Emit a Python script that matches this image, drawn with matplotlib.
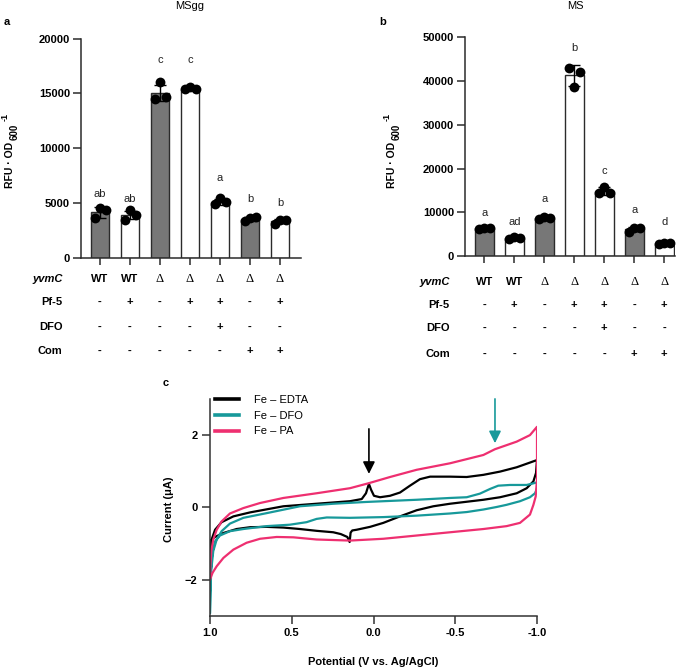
import numpy as np
import matplotlib.pyplot as plt

plt.rcParams['font.family'] = 'Liberation Sans'

# ---- panel a (MSgg) ----
means_a = [4150, 3900, 15050, 15450, 5080, 3560, 3330]
sd_a = [500, 350, 750, 80, 300, 200, 180]
pts_a = [[3600, 4550, 4350], [3470, 4380, 3925], [14490, 16010, 14640],
         [15450, 15550, 15450], [4900, 5450, 5100], [3350, 3650, 3700],
         [3100, 3450, 3400]]
letters_a = ['ab', 'ab', 'c', 'c', 'a', 'b', 'b']
letters_a_y = [5820, 5360, 18050, 18050, 7280, 5360, 5000]

# ---- panel b (MS) ----
means_b = [6300, 4100, 8630, 41290, 14850, 6130, 2900]
sd_b = [200, 200, 250, 2400, 870, 470, 180]
pts_b = [[6100, 6500, 6300], [3900, 4300, 4100], [8400, 8900, 8600],
         [42950, 38740, 42170], [14300, 15850, 14400], [5600, 6300, 6500],
         [2700, 3050, 2950]]
letters_b = ['a', 'ad', 'a', 'b', 'c', 'a', 'd']
letters_b_y = [9830, 7770, 13030, 47480, 19500, 10520, 7770]

filled = [True, False, True, False, False, True, False]
row_names = ['yvmC', 'Pf-5', 'DFO', 'Com']
yvmc = ['WT', 'WT', 'Δ', 'Δ', 'Δ', 'Δ', 'Δ']
pf5 = ['-', '+', '-', '+', '+', '-', '+']
dfo = ['-', '-', '-', '-', '+', '-', '-']
com = ['-', '-', '-', '-', '-', '+', '+']

# ---- panel c (cyclic voltammetry) ----
edta_E = [1.000, 0.990, 0.969, 0.929, 0.857, 0.755, 0.551, 0.348, 0.144, 0.072,
          0.046, 0.028, 0.015, -0.003, -0.040, -0.101, -0.162, -0.223, -0.284,
          -0.346, -0.468, -0.570, -0.672, -0.774, -0.876, -0.957, -1.000,
          -0.994, -0.978, -0.937, -0.876, -0.774, -0.672, -0.468, -0.366,
          -0.264, -0.162, -0.060, 0.021, 0.103, 0.130, 0.140, 0.146, 0.160,
          0.200, 0.246, 0.348, 0.450, 0.551, 0.653, 0.755, 0.837, 0.918,
          0.969, 1.000]
edta_I = [-1.26, -0.89, -0.62, -0.41, -0.25, -0.14, 0.03, 0.10, 0.17, 0.23,
          0.39, 0.65, 0.49, 0.32, 0.28, 0.32, 0.41, 0.60, 0.78,
          0.85, 0.85, 0.84, 0.90, 0.99, 1.11, 1.24, 1.31,
          0.95, 0.72, 0.53, 0.39, 0.28, 0.21, 0.10, 0.03,
          -0.08, -0.25, -0.43, -0.54, -0.62, -0.64, -0.70, -0.96, -0.82,
          -0.74, -0.69, -0.65, -0.60, -0.56, -0.54, -0.55, -0.60, -0.71,
          -0.82, -0.94]

dfo_E = [1.000, 0.998, 0.992, 0.980, 0.959, 0.929, 0.878, 0.796, 0.653, 0.450,
         0.246, 0.042, -0.264, -0.468, -0.570, -0.651, -0.713, -0.763, -0.835,
         -0.937, -1.000, -1.000, -0.988, -0.957, -0.896, -0.814, -0.753,
         -0.672, -0.570, -0.468, -0.264, -0.060, 0.144, 0.286, 0.348, 0.409,
         0.511, 0.653, 0.796, 0.878, 0.939, 0.969, 0.986, 0.996, 1.000]
dfo_I = [-2.91, -2.36, -1.72, -1.21, -0.89, -0.66, -0.45, -0.29, -0.16, 0.03,
         0.10, 0.15, 0.21, 0.26, 0.28, 0.38, 0.51, 0.60, 0.62,
         0.62, 0.69, 0.53, 0.39, 0.28, 0.17, 0.07, 0.01,
         -0.06, -0.13, -0.17, -0.23, -0.27, -0.29, -0.28, -0.32, -0.41,
         -0.48, -0.52, -0.60, -0.66, -0.78, -0.94, -1.26, -1.81, -2.91]

pa_E = [1.000, 0.998, 0.992, 0.980, 0.959, 0.929, 0.878, 0.796, 0.694, 0.551,
        0.348, 0.144, 0.028, -0.101, -0.264, -0.468, -0.672, -0.743, -0.876,
        -0.957, -1.000, -1.000, -0.992, -0.978, -0.957, -0.896, -0.814,
        -0.672, -0.468, -0.264, -0.060, 0.144, 0.348, 0.490, 0.592, 0.694,
        0.776, 0.857, 0.918, 0.959, 0.984, 1.000]
pa_I = [-1.99, -1.63, -1.21, -0.89, -0.62, -0.39, -0.17, -0.02, 0.12, 0.26,
        0.39, 0.53, 0.67, 0.84, 1.04, 1.22, 1.45, 1.61, 1.82,
        2.00, 2.23, 0.76, 0.30, 0.07, -0.20, -0.43, -0.52,
        -0.60, -0.69, -0.78, -0.87, -0.92, -0.89, -0.83, -0.82, -0.87,
        -0.98, -1.17, -1.40, -1.63, -1.81, -1.99]

W, H = 685, 670
fig = plt.figure(figsize=(W / 100, H / 100), dpi=100)

def px(l, t, r, b):
    return [l / W, 1 - b / H, (r - l) / W, (b - t) / H]

gray = '#777777'
edge = '#2b2b2b'
offs = [-0.17, 0.0, 0.19]


def bar_panel(ax, means, sd, pts, letters, letters_y, ymax, step, xlim,
              bw, row_y, row_x):
    x = np.arange(len(means))
    cols = [gray if f else 'white' for f in filled]
    ax.bar(x, means, width=bw, color=cols, edgecolor=edge, linewidth=1.0, zorder=2)
    ax.errorbar(x, means, yerr=sd, fmt='none', ecolor='black', elinewidth=1.0,
                capsize=4, capthick=1.0, zorder=3)
    for i, p in enumerate(pts):
        ax.scatter(x[i] + np.array(offs), p, s=50, color='black', zorder=4,
                   linewidths=0)
        ax.text(x[i], letters_y[i], letters[i], ha='center', va='center',
                fontsize=8, color='#222222')
    ax.set_xlim(*xlim)
    ax.set_ylim(0, ymax)
    ax.set_yticks(np.arange(0, ymax + 1, step))
    ax.set_xticks(x)
    ax.set_xticklabels([])
    for s in ['top', 'right']:
        ax.spines[s].set_visible(False)
    for s in ['left', 'bottom']:
        ax.spines[s].set_linewidth(1.1)
        ax.spines[s].set_color(edge)
    ax.tick_params(axis='y', direction='out', length=6, width=1.1, color=edge,
                   labelsize=8, pad=2)
    ax.tick_params(axis='x', direction='out', length=5, width=1.1, color=edge)
    for lab in ax.get_yticklabels():
        lab.set_fontweight('bold')
    tr = ax.get_xaxis_transform()
    rows = [yvmc, pf5, dfo, com]
    for r, (name, vals) in enumerate(zip(row_names, rows)):
        ax.text(row_x, row_y[r], name, transform=tr, ha='right', va='center',
                fontsize=8, fontweight='bold',
                fontstyle='italic' if r == 0 else 'normal', clip_on=False)
        for i, v in enumerate(vals):
            if v == 'Δ':
                ax.text(x[i], row_y[r], v, transform=tr, ha='center',
                        va='center', fontsize=9, family='Liberation Serif')
            else:
                ax.text(x[i], row_y[r], v, transform=tr, ha='center',
                        va='center', fontsize=8, fontweight='bold')


def rfu_label(xc, yc):
    # "RFU · OD" with subscript 600 and superscript -1, rotated
    fig.text(xc / W, 1 - yc / H, 'RFU · OD', rotation=90, ha='center',
             va='center', fontsize=7.5, fontweight='bold')
    fig.text((xc + 5) / W, 1 - (yc - 33) / H, '600', rotation=90, ha='center',
             va='center', fontsize=7, fontweight='bold')
    fig.text((xc - 4.5) / W, 1 - (yc - 48) / H, '-1', rotation=90, ha='center',
             va='center', fontsize=6.5, fontweight='bold')


ax_a = fig.add_axes(px(81, 38.7, 301, 257.7))
bar_panel(ax_a, means_a, sd_a, pts_a, letters_a, letters_a_y, 20000, 5000,
          (-0.633, 6.7), 0.61, [-0.097, -0.202, -0.316, -0.426], -1.25)
rfu_label(10, 165)

ax_b = fig.add_axes(px(465, 37.3, 675, 256))
bar_panel(ax_b, means_b, sd_b, pts_b, letters_b, letters_b_y, 50000, 10000,
          (-0.643, 6.36), 0.63, [-0.117, -0.224, -0.331, -0.448], -1.15)
rfu_label(392, 165)

fig.text(190 / W, 1 - 6 / H, 'MSgg', ha='center', va='center', fontsize=8)
fig.text(575 / W, 1 - 6 / H, 'MS', ha='center', va='center', fontsize=8)
fig.text(4 / W, 1 - 22 / H, 'a', ha='left', va='center', fontsize=8, fontweight='bold')
fig.text(379 / W, 1 - 22 / H, 'b', ha='left', va='center', fontsize=8, fontweight='bold')
fig.text(163 / W, 1 - 383 / H, 'c', ha='left', va='center', fontsize=8, fontweight='bold')

# ---- panel c ----
ax_c = fig.add_axes(px(210, 399, 537, 615.7))
ax_c.plot(edta_E, edta_I, color='black', lw=1.6, label='Fe – EDTA')
ax_c.plot(dfo_E, dfo_I, color='#17999a', lw=1.6, label='Fe – DFO')
ax_c.plot(pa_E, pa_I, color='#ee2f70', lw=1.6, label='Fe – PA')
ax_c.set_xlim(1.0, -1.0)
ax_c.set_ylim(-3, 3)
ax_c.set_xticks([1.0, 0.5, 0.0, -0.5, -1.0])
ax_c.set_xticklabels(['1.0', '0.5', '0.0', '-0.5', '-1.0'])
ax_c.set_yticks([-2, 0, 2])
for s in ['top', 'right']:
    ax_c.spines[s].set_visible(False)
for s in ['left', 'bottom']:
    ax_c.spines[s].set_linewidth(1.1)
    ax_c.spines[s].set_color('#333333')
ax_c.tick_params(direction='out', length=6, width=1.1, color='#333333',
                 labelsize=8, pad=3)
for lab in ax_c.get_xticklabels() + ax_c.get_yticklabels():
    lab.set_fontweight('bold')
ax_c.set_xlabel('Potential (V vs. Ag/AgCl)', fontsize=8, fontweight='bold')
ax_c.set_ylabel('Current (μA)', fontsize=8, fontweight='bold')
ax_c.xaxis.set_label_coords(0.498, -0.19)
ax_c.yaxis.set_label_coords(-0.11, 0.49)

leg = ax_c.legend(loc='upper left', bbox_to_anchor=(0.015, 1.017), frameon=False,
                  fontsize=8, handlelength=2.2, handletextpad=1.3,
                  labelspacing=0.5, borderpad=0, borderaxespad=0)
for ln in leg.get_lines():
    ln.set_linewidth(2.6)

ax_c.annotate('', xy=(0.028, 0.85), xytext=(0.028, 2.25),
              arrowprops=dict(arrowstyle='-|>,head_length=0.6,head_width=0.3',
                              color='black', lw=1.2, mutation_scale=12))
ax_c.annotate('', xy=(-0.743, 1.70), xytext=(-0.743, 3.08),
              arrowprops=dict(arrowstyle='-|>,head_length=0.6,head_width=0.3',
                              color='#17999a', lw=1.2, mutation_scale=12),
              annotation_clip=False)

fig.savefig('out.png', dpi=100)
